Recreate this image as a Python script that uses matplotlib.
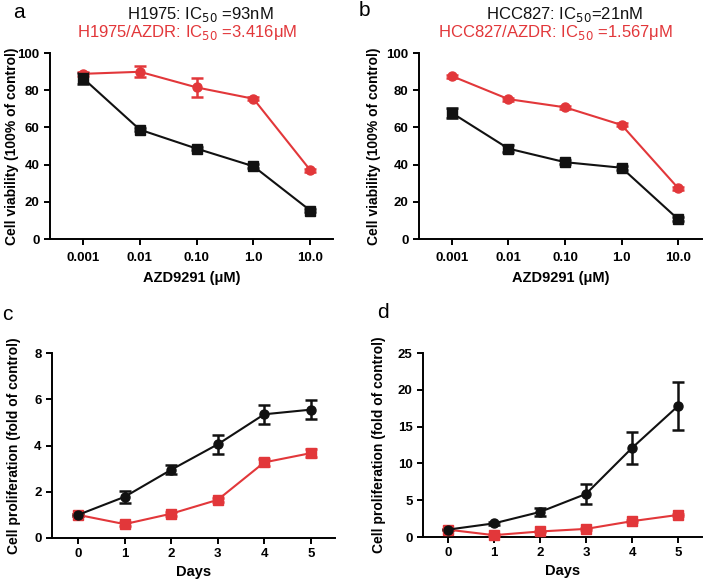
import matplotlib
matplotlib.use('Agg')
import matplotlib.pyplot as plt

plt.rcParams['font.family'] = ['Liberation Sans', 'DejaVu Sans']

RED = '#e2373a'
BLACK = '#111111'

# panel a / b : dose response
doses = ['0.001', '0.01', '0.10', '1.0', '10.0']
a_parent = [86.5, 58.8, 48.6, 39.1, 15.3]
a_parent_err = [3.0, 1.0, 1.0, 1.0, 1.0]
a_resist = [88.8, 89.9, 81.5, 75.4, 37.0]
a_resist_err = [1.0, 3.0, 5.0, 0.8, 0.8]

b_parent = [67.8, 48.6, 41.3, 38.3, 10.6]
b_parent_err = [2.8, 2.0, 1.0, 1.0, 1.0]
b_resist = [87.6, 75.2, 70.8, 61.3, 27.3]
b_resist_err = [0.8, 0.8, 0.8, 0.8, 0.8]

# panel c / d : proliferation
days = [0, 1, 2, 3, 4, 5]
c_parent = [1.0, 1.78, 2.95, 4.05, 5.35, 5.55]
c_parent_err = [0.05, 0.25, 0.2, 0.42, 0.4, 0.4]
c_resist = [1.0, 0.6, 1.05, 1.65, 3.27, 3.67]
c_resist_err = [0.05, 0.08, 0.08, 0.08, 0.15, 0.17]

d_parent = [1.0, 1.85, 3.4, 5.85, 12.1, 17.8]
d_parent_err = [0.1, 0.2, 0.6, 1.4, 2.2, 3.3]
d_resist = [1.0, 0.25, 0.75, 1.1, 2.15, 3.0]
d_resist_err = [0.1, 0.1, 0.1, 0.1, 0.15, 0.15]

fig = plt.figure(figsize=(7.09, 5.84), dpi=100)


def px(l, t, r, b):
    # pixel box -> figure rect
    return [l / 709, 1 - b / 584, (r - l) / 709, (b - t) / 584]


def style_axes(ax, xpad):
    for s in ['top', 'right']:
        ax.spines[s].set_visible(False)
    for s in ['left', 'bottom']:
        ax.spines[s].set_linewidth(1.4)
    ax.tick_params(width=1.4, length=4.5, labelsize=9.5, pad=3)
    ax.tick_params(axis='x', pad=xpad)
    for lab in ax.get_xticklabels() + ax.get_yticklabels():
        lab.set_fontweight('bold')


def draw(ax, x, y, err, color, marker, ms):
    ax.errorbar(x, y, yerr=err, color=color, marker=marker, ms=ms,
                lw=1.5, elinewidth=1.8, capsize=4, capthick=1.8, clip_on=False, zorder=3)


def dose_panel(rect, parent, perr, resist, rerr, xlim, ylab_x):
    ax = fig.add_axes(rect)
    x = list(range(len(doses)))
    draw(ax, x, resist, rerr, RED, 'o', 6.5)
    draw(ax, x, parent, perr, BLACK, 's', 6.5)
    ax.set_xlim(*xlim)
    ax.set_ylim(0, 100)
    ax.set_yticks([0, 20, 40, 60, 80, 100])
    ax.set_xticks(x)
    ax.set_xticklabels(doses)
    ax.set_xlabel('AZD9291 (μM)', fontsize=10.5, fontweight='bold', labelpad=5)
    ax.set_ylabel('Cell viability (100% of control)', fontsize=10, fontweight='bold')
    ax.yaxis.set_label_coords(ylab_x, 0.5)
    style_axes(ax, 5)
    return ax


def prolif_panel(rect, parent, perr, resist, rerr, ylim, yticks, xlim, ylab_x):
    ax = fig.add_axes(rect)
    draw(ax, days, resist, rerr, RED, 's', 6.5)
    draw(ax, days, parent, perr, BLACK, 'o', 6.5)
    ax.set_xlim(*xlim)
    ax.set_ylim(*ylim)
    ax.set_yticks(yticks)
    ax.set_xticks(days)
    ax.set_xlabel('Days', fontsize=10.5, fontweight='bold', labelpad=3)
    ax.set_ylabel('Cell proliferation (fold of control)', fontsize=10, fontweight='bold')
    ax.yaxis.set_label_coords(ylab_x, 0.5)
    style_axes(ax, 3)
    return ax


dose_panel(px(50, 53, 333, 239), a_parent, a_parent_err, a_resist, a_resist_err,
           (-0.58, 4.4), -0.108)
dose_panel(px(419, 53, 702, 239), b_parent, b_parent_err, b_resist, b_resist_err,
           (-0.58, 4.42), -0.134)
prolif_panel(px(52, 353, 335, 538), c_parent, c_parent_err, c_resist, c_resist_err,
             (0, 8), [0, 2, 4, 6, 8], (-0.56, 5.52), -0.110)
prolif_panel(px(423, 353, 702, 537), d_parent, d_parent_err, d_resist, d_resist_err,
             (0, 25), [0, 5, 10, 15, 20, 25], (-0.54, 5.52), -0.132)

# titles
fig.text(200 / 709, 1 - 14 / 584, 'H1975: IC$_{50}$ =93nM', ha='center', va='center', fontsize=12, color=BLACK)
fig.text(187 / 709, 1 - 33 / 584, 'H1975/AZDR: IC$_{50}$ =3.416μM', ha='center', va='center', fontsize=12, color=RED)
fig.text(565 / 709, 1 - 14 / 584, 'HCC827: IC$_{50}$=21nM', ha='center', va='center', fontsize=12, color=BLACK)
fig.text(555 / 709, 1 - 33 / 584, 'HCC827/AZDR: IC$_{50}$ =1.567μM', ha='center', va='center', fontsize=12, color=RED)

# panel letters
for lx, ly, t in [(19, 12, 'a'), (364, 10, 'b'), (7, 314, 'c'), (383, 312, 'd')]:
    fig.text(lx / 709, 1 - ly / 584, t, ha='center', va='center', fontsize=15)

fig.savefig('out.png', dpi=100)
